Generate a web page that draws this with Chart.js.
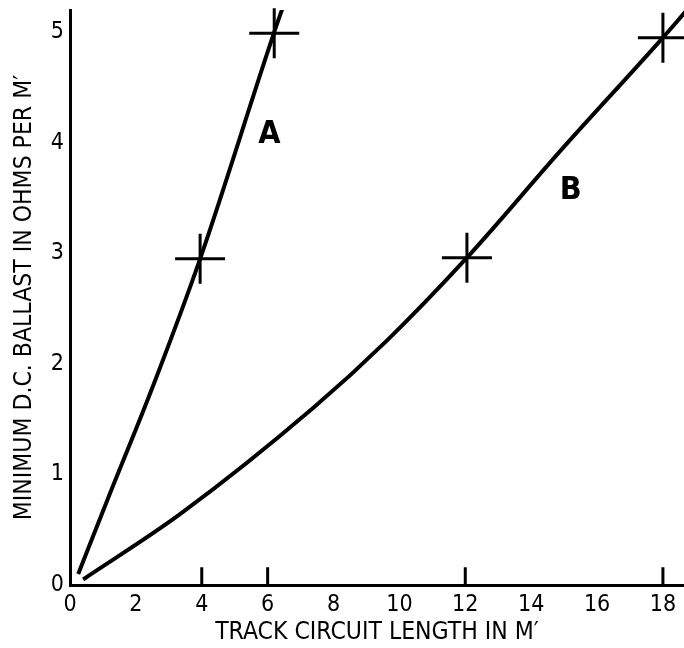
<!DOCTYPE html>
<html>
<head>
<meta charset="utf-8">
<script src="https://cdn.jsdelivr.net/npm/chart.js@4/dist/chart.umd.min.js"></script>
<style>
  html, body { margin: 0; padding: 0; background: #fff; }
  #wrap { width: 684px; height: 648px; }
</style>
</head>
<body>
<div id="wrap"><canvas id="c"></canvas></div>
<script>
// ---- data ----
const curveA_x = [0.25, 1.15, 2.52, 3.95, 6.2, 6.55];
const curveA_y = [0.10, 0.78, 1.80, 2.95, 5.0, 5.3];
const curveB_x = [0.4, 3.34, 7.38, 9.62, 12.05, 14.9, 18.0, 18.7];
const curveB_y = [0.05, 0.64, 1.60, 2.21, 2.96, 3.93, 4.95, 5.19];
const markA_x = [3.95, 6.2];
const markA_y = [2.95, 4.99];
const markB_x = [12.05, 18.0];
const markB_y = [2.96, 4.95];
const axisMarks_x = [4, 6, 12, 18];
const xTicks = [0, 2, 4, 6, 8, 10, 12, 14, 16, 18];
const yTicks = [0, 1, 2, 3, 4, 5];
const curveNames = ['A', 'B'];
const curveLabelX = [6.05, 15.2];
const curveLabelY = [4.07, 3.57];
const xTitle = "TRACK CIRCUIT LENGTH IN M\u2032";
const yTitle = "MINIMUM D.C. BALLAST IN OHMS PER M\u2032";

const pts = (xs, ys) => xs.map((x, i) => ({ x: x, y: ys[i] }));
const markSegs = [];
axisMarks_x.forEach(x => { markSegs.push({x: x, y: 0}); markSegs.push({x: x, y: 0.16}); markSegs.push({x: x, y: null}); });

const FONT = "'Liberation Sans Narrow', 'DejaVu Sans Condensed', 'Liberation Sans', sans-serif";

const labelPlugin = {
  id: 'curveLabels',
  afterDatasetsDraw(chart) {
    const ctx = chart.ctx, xs = chart.scales.x, ys = chart.scales.y;
    ctx.save();
    ctx.fillStyle = '#000';
    ctx.font = "bold 32px " + FONT;
    ctx.textAlign = 'center';
    ctx.textBaseline = 'middle';
    curveNames.forEach((n, i) => {
      ctx.fillText(n, xs.getPixelForValue(curveLabelX[i]), ys.getPixelForValue(curveLabelY[i]));
    });
    ctx.restore();
  }
};

new Chart(document.getElementById('c'), {
  type: 'scatter',
  data: {
    datasets: [
      { data: pts(curveA_x, curveA_y), showLine: true, borderColor: '#000', borderWidth: 4,
        pointRadius: 0, cubicInterpolationMode: 'monotone', fill: false },
      { data: pts(curveB_x, curveB_y), showLine: true, borderColor: '#000', borderWidth: 4,
        pointRadius: 0, cubicInterpolationMode: 'monotone', fill: false },
      { data: pts(markA_x, markA_y).concat(pts(markB_x, markB_y)), showLine: false,
        pointStyle: 'cross', pointRadius: 25, borderColor: '#000', borderWidth: 3, backgroundColor: '#000', clip: 30 },
      { data: markSegs, showLine: true, spanGaps: false, borderColor: '#000', borderWidth: 3, pointRadius: 0 }
    ]
  },
  plugins: [labelPlugin],
  options: {
    responsive: true,
    maintainAspectRatio: false,
    animation: false,
    devicePixelRatio: 1,
    layout: { autoPadding: false, padding: { top: 10, right: 0, left: 0, bottom: 0 } },
    plugins: { legend: { display: false }, tooltip: { enabled: false } },
    scales: {
      x: {
        type: 'linear', min: 0, max: 18.64,
        afterBuildTicks: s => { s.ticks = xTicks.map(v => ({ value: v })); },
        afterFit: s => { s.height = 63; s.paddingLeft = 0; s.paddingRight = 0; },
        grid: { display: false, drawTicks: false },
        border: { display: true, color: '#000', width: 3 },
        ticks: { color: '#000', padding: 6, font: { family: FONT, size: 23 }, maxRotation: 0 },
        title: { display: true, text: xTitle, color: '#000', font: { family: FONT, size: 24.5 }, padding: { top: 0, bottom: 1 } }
      },
      y: {
        type: 'linear', min: 0, max: 5.2,
        afterBuildTicks: s => { s.ticks = yTicks.map(v => ({ value: v })); },
        afterFit: s => { s.width = 70; s.paddingTop = 0; s.paddingBottom = 0; },
        grid: { display: false, drawTicks: false },
        border: { display: true, color: '#000', width: 3 },
        ticks: { color: '#000', padding: 6, font: { family: FONT, size: 23 } },
        title: { display: true, text: yTitle, color: '#000', font: { family: FONT, size: 24.5 }, padding: { top: 10, bottom: 0 } }
      }
    }
  }
});
</script>
</body>
</html>
